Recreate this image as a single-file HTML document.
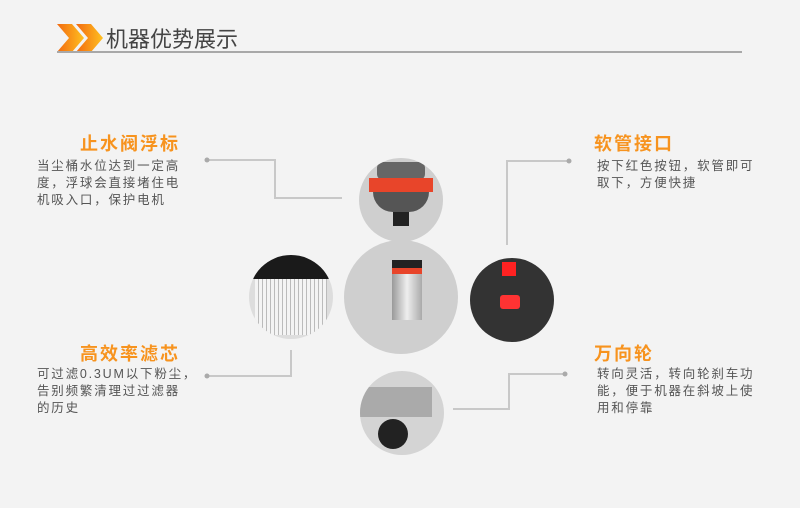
<!DOCTYPE html>
<html><head><meta charset="utf-8"><style>
body{margin:0;width:800px;height:508px;background:#f3f3f3;position:relative;overflow:hidden;font-family:"Liberation Sans","Noto Sans CJK SC",sans-serif}
.t{position:absolute;font-size:18px;font-weight:bold;color:#f7931e;line-height:20px;letter-spacing:2px}
.b{position:absolute;font-size:12.5px;color:#555;line-height:17px;letter-spacing:1.8px}
.c{position:absolute;border-radius:50%;background:#cfcfcf;overflow:hidden}
</style></head><body>
<svg width="800" height="508" style="position:absolute;left:0;top:0">
<defs><linearGradient id="g" x1="0" x2="1"><stop offset="0" stop-color="#f26a10"/><stop offset="1" stop-color="#ffc020"/></linearGradient></defs>
<polygon points="57,24 72,24 84,38 72,52 57,52 69,38" fill="url(#g)"/>
<polygon points="76,24 91,24 103,38 91,52 76,52 88,38" fill="url(#g)"/>
<rect x="57" y="51" width="685" height="2" fill="#a8a8a8"/>
<g stroke="#c8c8c8" stroke-width="2" fill="none">
<polyline points="207,160 275,160 275,198 342,198"/>
<polyline points="569,161 507,161 507,245"/>
<polyline points="207,376 291,376 291,350"/>
<polyline points="565,374 509,374 509,409 453,409"/>
</g>
<g fill="#aaa"><circle cx="207" cy="160" r="2.5"/><circle cx="569" cy="161" r="2.5"/><circle cx="207" cy="376" r="2.5"/><circle cx="565" cy="374" r="2.5"/></g>
</svg>
<div style="position:absolute;left:106px;top:26px;font-size:22px;color:#444;line-height:28px">机器优势展示</div>

<div class="c" style="left:359px;top:158px;width:84px;height:84px">
<div style="position:absolute;left:18px;top:4px;width:48px;height:18px;background:#666;border-radius:6px"></div>
<div style="position:absolute;left:10px;top:20px;width:64px;height:14px;background:#e8452a"></div>
<div style="position:absolute;left:14px;top:34px;width:56px;height:20px;background:#555;border-radius:0 0 28px 28px"></div>
<div style="position:absolute;left:34px;top:54px;width:16px;height:14px;background:#222"></div></div>
<div class="c" style="left:344px;top:240px;width:114px;height:114px">
<div style="position:absolute;left:48px;top:20px;width:30px;height:8px;background:#222"></div>
<div style="position:absolute;left:48px;top:28px;width:30px;height:6px;background:#e8452a"></div>
<div style="position:absolute;left:48px;top:34px;width:30px;height:46px;background:linear-gradient(90deg,#999,#eee,#aaa)"></div></div>
<div class="c" style="left:249px;top:255px;width:84px;height:84px;background:#ddd">
<div style="position:absolute;left:0;top:0;width:84px;height:24px;background:#1a1a1a;border-radius:40px 40px 10px 10px"></div>
<div style="position:absolute;left:6px;top:24px;width:72px;height:56px;background:repeating-linear-gradient(90deg,#f4f4f4 0 3px,#bbb 3px 4px)"></div></div>
<div class="c" style="left:470px;top:258px;width:84px;height:84px;background:#333">
<div style="position:absolute;left:32px;top:4px;width:14px;height:14px;background:#f22"></div>
<div style="position:absolute;left:30px;top:37px;width:20px;height:14px;background:#f33;border-radius:3px"></div></div>
<div class="c" style="left:360px;top:371px;width:84px;height:84px;background:#d4d4d4">
<div style="position:absolute;left:0;top:16px;width:72px;height:30px;background:#aaa"></div>
<div style="position:absolute;left:18px;top:48px;width:30px;height:30px;background:#222;border-radius:50%"></div></div>

<div class="t" style="left:80px;top:134px">止水阀浮标</div>
<div class="b" style="left:37px;top:158px;width:170px">当尘桶水位达到一定高<br>度，浮球会直接堵住电<br>机吸入口，保护电机</div>
<div class="t" style="left:594px;top:134px">软管接口</div>
<div class="b" style="left:597px;top:158px">按下红色按钮，软管即可<br>取下，方便快捷</div>
<div class="t" style="left:80px;top:344px">高效率滤芯</div>
<div class="b" style="left:37px;top:366px">可过滤0.3UM以下粉尘，<br>告别频繁清理过过滤器<br>的历史</div>
<div class="t" style="left:594px;top:344px">万向轮</div>
<div class="b" style="left:597px;top:366px">转向灵活，转向轮刹车功<br>能，便于机器在斜坡上使<br>用和停靠</div>
</body></html>
